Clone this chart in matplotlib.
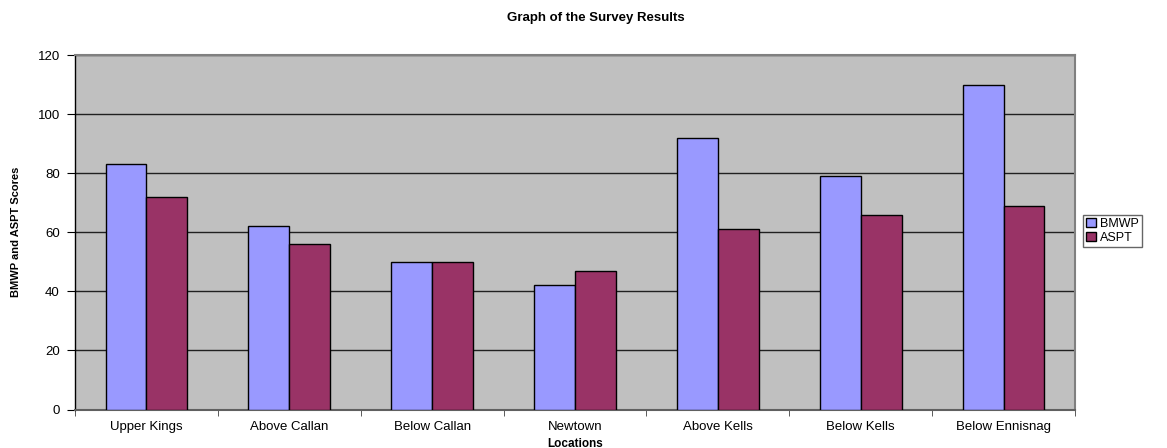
import matplotlib
matplotlib.use("Agg")
import matplotlib.pyplot as plt
import numpy as np

categories = ["Upper Kings", "Above Callan", "Below Callan", "Newtown",
              "Above Kells", "Below Kells", "Below Ennisnag"]
bmwp = [83, 62, 50, 42, 92, 79, 110]
aspt = [72, 56, 50, 47, 61, 66, 69]
y_ticks = [0, 20, 40, 60, 80, 100, 120]

plt.rcParams['font.family'] = ['Liberation Sans', 'DejaVu Sans']

W, H = 1167, 448
fig = plt.figure(figsize=(W / 100, H / 100), dpi=100)
ax = fig.add_axes([75 / W, 1 - 409.5 / H, 1000 / W, (409.5 - 55) / H])
ax.set_facecolor('#C0C0C0')

x = np.arange(len(categories))
bw = 1 / 3.5
ax.bar(x - bw / 2, bmwp, bw, color='#9999FF', edgecolor='black', linewidth=1.0,
       label='BMWP', zorder=3)
ax.bar(x + bw / 2, aspt, bw, color='#993366', edgecolor='black', linewidth=1.0,
       label='ASPT', zorder=3)

ax.set_xlim(-0.5, len(categories) - 0.5)
ax.set_ylim(0, 120)
ax.set_yticks(y_ticks)
ax.set_yticklabels([str(v) for v in y_ticks], fontsize=9.5)
ax.yaxis.grid(True, color='#202020', linewidth=1.0, zorder=1)
ax.set_axisbelow(True)

ax.set_xticks(x)
ax.set_xticklabels(categories, fontsize=9.5)
ax.tick_params(axis='x', which='major', length=0, pad=8)
ax.set_xticks(np.arange(-0.5, len(categories), 1), minor=True)
ax.tick_params(axis='x', which='minor', length=4, direction='out', color='#404040')
ax.tick_params(axis='y', length=6, direction='out', color='black', pad=5)

for side in ['top', 'right']:
    ax.spines[side].set_color('#808080')
    ax.spines[side].set_linewidth(1.5)
ax.spines['left'].set_color('black')
ax.spines['left'].set_linewidth(1.0)
ax.spines['bottom'].set_color('#606060')
ax.spines['bottom'].set_linewidth(1.5)

ax.set_xlabel("Locations", fontsize=8.5, fontweight='bold', labelpad=4)
ax.set_ylabel("BMWP and ASPT Scores", fontsize=8, fontweight='bold', labelpad=12)
fig.text(596 / W, 1 - 18 / H, "Graph of the Survey Results", ha='center', va='center',
         fontsize=9.5, fontweight='bold')

leg = fig.legend(loc='center left', bbox_to_anchor=(1083 / W, 1 - 231 / H),
                 fontsize=9, frameon=True, fancybox=False, handlelength=0.8,
                 handleheight=0.8, handletextpad=0.3, borderpad=0.25,
                 labelspacing=0.15, borderaxespad=0)
leg.get_frame().set_edgecolor('#404040')
leg.get_frame().set_linewidth(1.0)

fig.savefig("out.png", dpi=100, facecolor='white')
